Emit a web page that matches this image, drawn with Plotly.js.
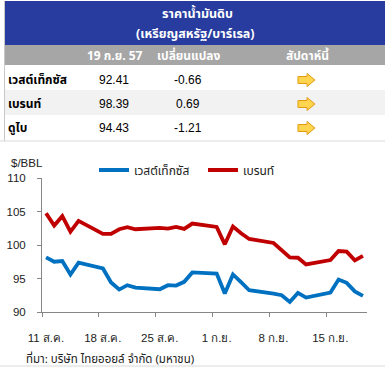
<!DOCTYPE html>
<html>
<head>
<meta charset="utf-8">
<script src="https://cdn.plot.ly/plotly-3.0.1.min.js"></script>
<style>
html,body{margin:0;padding:0;background:#fff;}
#chart{width:385px;height:370px;}
</style>
</head>
<body>
<div id="chart"></div>
<script>
// ---- data ----
const tradeDates = [
  '2014-08-11','2014-08-12','2014-08-13','2014-08-14','2014-08-15',
  '2014-08-18','2014-08-19','2014-08-20','2014-08-21','2014-08-22',
  '2014-08-25','2014-08-26','2014-08-27','2014-08-28','2014-08-29',
  '2014-09-01','2014-09-02','2014-09-03','2014-09-04','2014-09-05',
  '2014-09-08','2014-09-09','2014-09-10','2014-09-11','2014-09-12',
  '2014-09-15','2014-09-16','2014-09-17','2014-09-18','2014-09-19'
];
const wti = [
  98.15, 97.5, 97.6, 95.6, 97.35,
  96.5, 94.4, 93.35, 94.0, 93.65,
  93.4, 94.0, 93.95, 94.5, 95.9,
  95.75, 92.75, 95.6, 94.45, 93.25,
  92.75, 92.5, 91.5, 92.85, 92.15,
  92.9, 94.85, 94.35, 93.07, 92.41
];
const brent = [
  104.75, 102.9, 104.3, 102.0, 103.6,
  101.65, 101.65, 102.35, 102.65, 102.35,
  102.55, 102.45, 102.7, 102.4, 103.2,
  102.7, 100.1, 102.75, 101.75, 100.9,
  100.3, 99.3, 98.15, 98.1, 97.1,
  97.75, 99.1, 99.0, 97.70, 98.39
];
const seriesNames = ['เวสต์เท็กซัส', 'เบรนท์'];
const tickDates = ['2014-08-11','2014-08-18','2014-08-25','2014-09-01','2014-09-08','2014-09-15'];
const tickLabels = ['11 ส.ค.','18 ส.ค.','25 ส.ค.','1 ก.ย.','8 ก.ย.','15 ก.ย.'];
const yTicks = [90, 95, 100, 105, 110];

// table data
const tableTitle = ['ราคาน้ำมันดิบ', '(เหรียญสหรัฐ/บาร์เรล)'];
const tableHeaders = ['19 ก.ย. 57', 'เปลี่ยนแปลง', 'สัปดาห์นี้'];
const tableRows = ['เวสต์เท็กซัส', 'เบรนท์', 'ดูไบ'];
const tablePrices = ['92.41', '98.39', '94.43'];
const tableChanges = ['-0.66', '0.69', '-1.21'];
const sourceText = 'ที่มา: บริษัท ไทยออยล์ จำกัด (มหาชน)';
const unitText = '$/BBL';

// ---- layout helpers (pixel -> paper) ----
const W = 385, H = 370;
const M = {l: 42, r: 18, t: 178, b: 58};
const PW = W - M.l - M.r, PH = H - M.t - M.b;
const px = x => (x - M.l) / PW;
const py = y => (H - M.b - y) / PH;

const FONT = 'Tahoma, "Noto Sans Thai", "Leelawadee UI", "DejaVu Sans", "Liberation Sans", sans-serif';
const NUMFONT = '"Liberation Sans", Arial, sans-serif';

const centered = tradeDates.map(d => d + ' 12:00');

const traces = [
  {x: centered, y: wti, name: seriesNames[0], type: 'scatter', mode: 'lines',
   legend: 'legend', line: {color: '#0070C0', width: 3.8}},
  {x: centered, y: brent, name: seriesNames[1], type: 'scatter', mode: 'lines',
   legend: 'legend2', line: {color: '#C00000', width: 3.8}}
];

const shapes = [];
const annotations = [];
function rect(x0, y0, x1, y1, color) {
  shapes.push({type: 'rect', xref: 'paper', yref: 'paper',
    x0: px(x0), x1: px(x1), y0: py(y1), y1: py(y0),
    fillcolor: color, line: {width: 0}, layer: 'below'});
}
function hline(x0, x1, y, color) {
  shapes.push({type: 'line', xref: 'paper', yref: 'paper',
    x0: px(x0), x1: px(x1), y0: py(y), y1: py(y), line: {color: color, width: 1}});
}
function vline(x, y0, y1, color) {
  shapes.push({type: 'line', xref: 'paper', yref: 'paper',
    x0: px(x), x1: px(x), y0: py(y0), y1: py(y1), line: {color: color, width: 1}});
}
function text(t, x, y, opts) {
  opts = opts || {};
  annotations.push({text: t, xref: 'paper', yref: 'paper', x: px(x), y: py(y),
    xanchor: opts.anchor || 'center', yanchor: 'middle', showarrow: false,
    font: {family: opts.family || FONT, size: opts.size || 12, color: opts.color || '#000',
           weight: opts.weight || 'normal'}});
}
function arrow(cx, cy) {
  shapes.push({type: 'path', xref: 'paper', yref: 'paper',
    xsizemode: 'pixel', ysizemode: 'pixel', xanchor: px(cx), yanchor: py(cy),
    path: 'M -8 -3.5 L 1 -3.5 L 1 -6.5 L 9 0 L 1 6.5 L 1 3.5 L -8 3.5 Z',
    fillcolor: '#FFD54F', line: {color: '#E39B16', width: 1}});
}

// table background
rect(4, 1, 385, 45, '#283C9F');
rect(4, 45, 385, 65, '#A6A6A6');
rect(4, 90, 385, 115, '#F2F2F2');
vline(4.5, 1, 141, '#C8C8C8');
hline(0, 385, 141, '#D9D9D9');
hline(0, 385, 366, '#D9D9D9');

text(tableTitle[0], 197, 14, {color: '#fff', weight: 'bold', size: 12.5});
text(tableTitle[1], 195, 34, {color: '#fff', weight: 'bold', size: 12.5});
const headX = [115, 188, 308];
tableHeaders.forEach((h, i) => text(h, headX[i], 56, {color: '#fff', weight: 'bold'}));
const rowY = [80, 104, 128];
tableRows.forEach((r, i) => {
  text(r, 6, rowY[i], {anchor: 'left', weight: 'bold'});
  text(tablePrices[i], 114, rowY[i], {family: NUMFONT});
  text(tableChanges[i], 188, rowY[i], {family: NUMFONT});
  arrow(306, rowY[i]);
});

text(unitText, 9, 163, {anchor: 'left', family: NUMFONT, size: 11.5, color: '#222'});
text(sourceText, 24, 359, {anchor: 'left', size: 11.5, color: '#222'});

const legendBase = {orientation: 'h', xanchor: 'left', yanchor: 'middle',
  bgcolor: 'rgba(0,0,0,0)', borderwidth: 0,
  font: {family: FONT, size: 12, color: '#222'}};

const layout = {
  width: W, height: H,
  margin: M,
  paper_bgcolor: '#fff', plot_bgcolor: '#fff',
  showlegend: true,
  legend: Object.assign({}, legendBase, {x: px(94), y: py(170)}),
  legend2: Object.assign({}, legendBase, {x: px(203), y: py(170)}),
  xaxis: {type: 'date', range: ['2014-08-11', '2014-09-20'],
    tickmode: 'array', tickvals: tickDates, ticktext: tickLabels,
    ticks: 'outside', ticklen: 4, tickcolor: '#868686', tickwidth: 1,
    showline: true, linecolor: '#868686', linewidth: 1,
    showgrid: false, zeroline: false, ticklabelshift: 4, ticklabelstandoff: 11,
    tickfont: {family: NUMFONT, size: 11.5, color: '#222'}},
  yaxis: {range: [90, 110], tickmode: 'array', tickvals: yTicks,
    ticks: 'outside', ticklen: 4, tickcolor: '#868686', tickwidth: 1,
    showline: true, linecolor: '#868686', linewidth: 1,
    showgrid: false, zeroline: false, ticklabelstandoff: 9,
    tickfont: {family: NUMFONT, size: 11.5, color: '#222'}},
  shapes: shapes,
  annotations: annotations
};

Plotly.newPlot('chart', traces, layout, {displayModeBar: false, staticPlot: true});
</script>
</body>
</html>
